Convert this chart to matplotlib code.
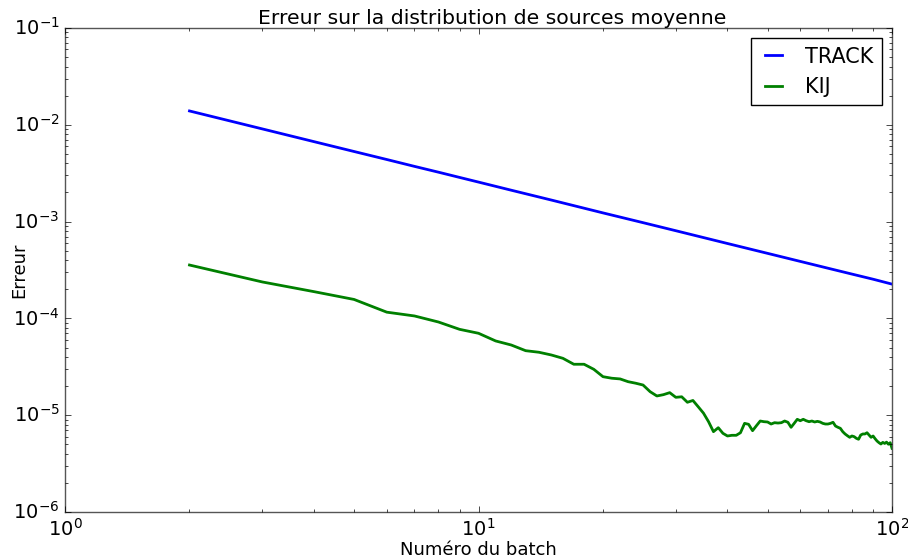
import matplotlib
matplotlib.use('Agg')
import matplotlib.pyplot as plt

# batch numbers
track_batch = [2, 3, 4, 5, 6, 7, 8, 9, 10, 12, 15, 20, 25, 30, 40, 50, 60, 70, 80, 90, 100]
track_err = [1.39e-2, 9.07e-3, 6.70e-3, 5.30e-3, 4.38e-3, 3.72e-3, 3.24e-3, 2.86e-3,
             2.56e-3, 2.11e-3, 1.67e-3, 1.23e-3, 9.75e-4, 8.05e-4, 5.94e-4, 4.70e-4,
             3.88e-4, 3.30e-4, 2.87e-4, 2.54e-4, 2.26e-4]

kij_batch = list(range(2, 101))
kij_err = [3.56e-4, 2.38e-4, 1.89e-4, 1.57e-4, 1.16e-4, 1.06e-4, 9.18e-5, 7.71e-5, 7.02e-5,
           5.85e-5, 5.31e-5, 4.64e-5, 4.47e-5, 4.19e-5, 3.87e-5, 3.36e-5, 3.36e-5, 2.98e-5,
           2.50e-5, 2.41e-5, 2.37e-5, 2.22e-5, 2.14e-5, 2.05e-5, 1.75e-5, 1.58e-5, 1.63e-5,
           1.71e-5, 1.53e-5, 1.55e-5, 1.36e-5, 1.42e-5, 1.22e-5, 1.05e-5, 8.57e-6, 6.76e-6,
           7.43e-6, 6.50e-6, 6.10e-6, 6.20e-6, 6.20e-6, 6.59e-6, 8.24e-6, 8.05e-6, 6.92e-6,
           7.79e-6, 8.71e-6, 8.57e-6, 8.51e-6, 8.11e-6, 8.37e-6, 8.30e-6, 8.37e-6, 8.71e-6,
           8.45e-6, 7.50e-6, 8.24e-6, 9.07e-6, 8.77e-6, 9.07e-6, 8.77e-6, 8.57e-6, 8.71e-6,
           8.51e-6, 8.64e-6, 8.51e-6, 8.24e-6, 8.11e-6, 8.11e-6, 8.24e-6, 8.45e-6, 7.73e-6,
           7.50e-6, 7.32e-6, 6.76e-6, 6.40e-6, 6.14e-6, 5.91e-6, 6.10e-6, 6.00e-6, 5.77e-6,
           5.64e-6, 6.24e-6, 6.40e-6, 6.40e-6, 6.59e-6, 6.24e-6, 5.91e-6, 6.10e-6, 5.72e-6,
           5.41e-6, 5.20e-6, 5.04e-6, 5.24e-6, 5.11e-6, 5.27e-6, 5.01e-6, 5.20e-6, 4.55e-6]

plt.style.use('classic')
fig = plt.figure(figsize=(9.08, 5.6), dpi=100, facecolor='white')
ax = fig.add_axes([0.0716, 0.0857, 0.9108, 0.8643])

ax.loglog(track_batch, track_err, 'b-', lw=2, label='TRACK')
ax.loglog(kij_batch, kij_err, 'g-', lw=2, label='KIJ')

ax.set_xlim(1, 100)
ax.set_ylim(1e-6, 1e-1)
ax.set_title('Erreur sur la distribution de sources moyenne', fontsize=14.7, pad=3, x=0.517)
ax.set_xlabel('Numéro du batch', fontsize=13)
ax.set_ylabel('Erreur', fontsize=13)
ax.xaxis.set_label_coords(0.5, -0.059)
ax.yaxis.set_label_coords(-0.045, 0.5)
ax.tick_params(labelsize=14)
for s in ax.spines.values():
    s.set_color('#555555')
ax.legend(loc='upper right', fontsize=15, handlelength=1.4)

plt.savefig('out.png', dpi=100, facecolor='white')
plt.close()
